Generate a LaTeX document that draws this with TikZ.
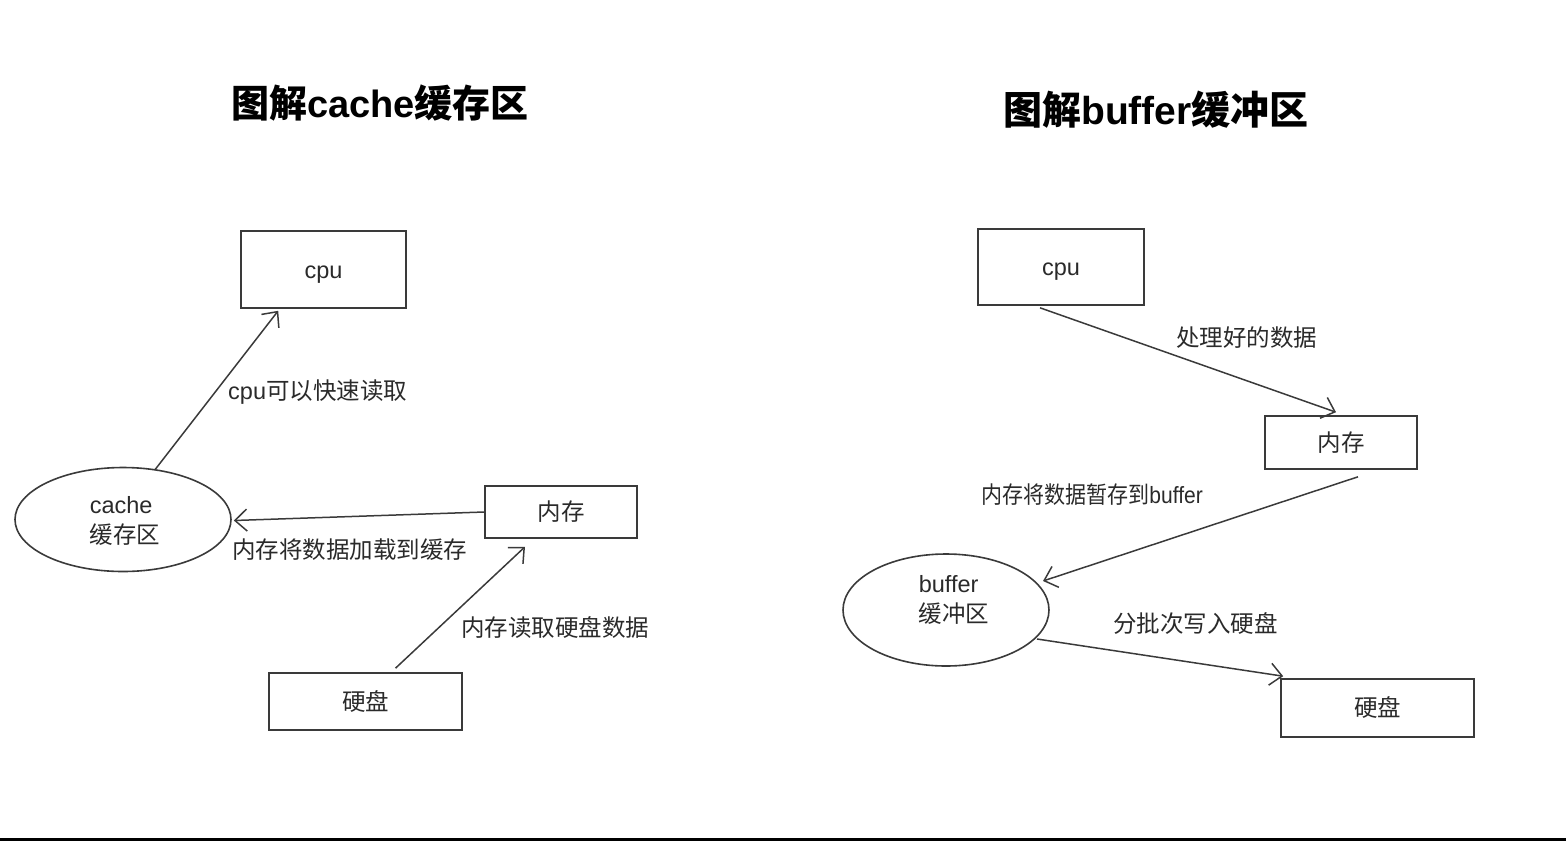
\documentclass[tikz,border=0pt]{standalone}
\usepackage{fontspec}
\setmainfont{Noto Sans CJK SC}
\newfontfamily\lat{Liberation Sans}
\usetikzlibrary{shapes.geometric,arrows.meta,calc}
\definecolor{ink}{HTML}{2A2A2A}
\definecolor{edge}{HTML}{3A3A3A}
\tikzset{
  box/.style={draw=edge,line width=1.6pt,rectangle,inner sep=0pt,font=\fontsize{23.5}{30}\selectfont,text=ink,text height=22.4pt,text depth=4.7pt},
  oval/.style={draw=edge,line width=1.6pt,ellipse,inner sep=0pt},
  ovaltext/.style={inner sep=0pt,align=left,font=\fontsize{23.5}{29.5}\selectfont,text=ink},
  lbl/.style={anchor=west,inner sep=0pt,font=\fontsize{23.5}{28}\selectfont,text=ink},
  ttl/.style={inner sep=0pt,font=\fontsize{38}{42}\selectfont\bfseries,text=black},
  conn/.style={draw=edge,line width=1.5pt,-{Straight Barb[length=12pt,width=22pt]}},
}
\begin{document}
\begin{tikzpicture}[x=1pt,y=-1pt]
\useasboundingbox (0,0) rectangle (1566,841);
\fill[black] (0,838) rectangle (1566,841);
% titles
\node[ttl] (t1) at (380,103) {图解{\lat\bfseries cache}缓存区};
\node[ttl,font=\fontsize{39}{42}\selectfont\bfseries] (t2) at (1156,110) {图解{\lat\bfseries buffer}缓冲区};
% left diagram
\node[box,minimum width=165pt,minimum height=77pt] (cpu1) at (323.5,269.5) {\lat cpu};
\node[oval,minimum width=216pt,minimum height=104pt] (cache) at (123,519.5) {};
\node[ovaltext] (cachetxt) at (125,521) {{\lat cache}\\缓存区};
\node[box,minimum width=152pt,minimum height=52pt] (mem1) at (561,512) {内存};
\node[box,minimum width=193pt,minimum height=57pt] (disk1) at (365.5,701.5) {硬盘};
\draw[conn] ([xshift=32pt,yshift=-3pt]cache.north) -- ([xshift=38pt,yshift=-2pt]cpu1.south west);
\draw[conn] (mem1.west) -- ([xshift=2pt,yshift=-1pt]cache.east);
\draw[conn] ([xshift=30pt,yshift=4pt]disk1.north) -- ([xshift=-36pt,yshift=-8pt]mem1.south);
\node[lbl] (l1) at (228,392) {{\lat cpu}可以快速读取};
\node[lbl] (l2) at (232,550) {内存将数据加载到缓存};
\node[lbl] (l3) at (461,628) {内存读取硬盘数据};
% right diagram
\node[box,minimum width=166pt,minimum height=76pt] (cpu2) at (1061,267) {\lat cpu};
\node[box,minimum width=152pt,minimum height=53pt] (mem2) at (1341,442.5) {内存};
\node[oval,minimum width=206pt,minimum height=112pt] (buf) at (946,610) {};
\node[ovaltext] (buftxt) at (954,600) {{\lat buffer}\\缓冲区};
\node[box,minimum width=193pt,minimum height=58pt] (disk2) at (1377.5,708) {硬盘};
\draw[conn] ([xshift=-21pt,yshift=-2pt]cpu2.south) -- ([xshift=-5pt,yshift=3pt]mem2.north);
\draw[conn] ([xshift=17pt,yshift=-7pt]mem2.south) -- ([shift={(97pt,29pt)}]buf.center);
\draw[conn] ([shift={(91pt,-29pt)}]buf.center) -- ([xshift=3pt,yshift=2pt]disk2.north west);
\node[lbl] (l4) at (1176,338) {处理好的数据};
\node[lbl] (l5) at (981,495) {\scalebox{0.895}[1]{内存将数据暂存到{\lat buffer}}};
\node[lbl] (l6) at (1113,623) {分批次写入硬盘};
\end{tikzpicture}
\end{document}
